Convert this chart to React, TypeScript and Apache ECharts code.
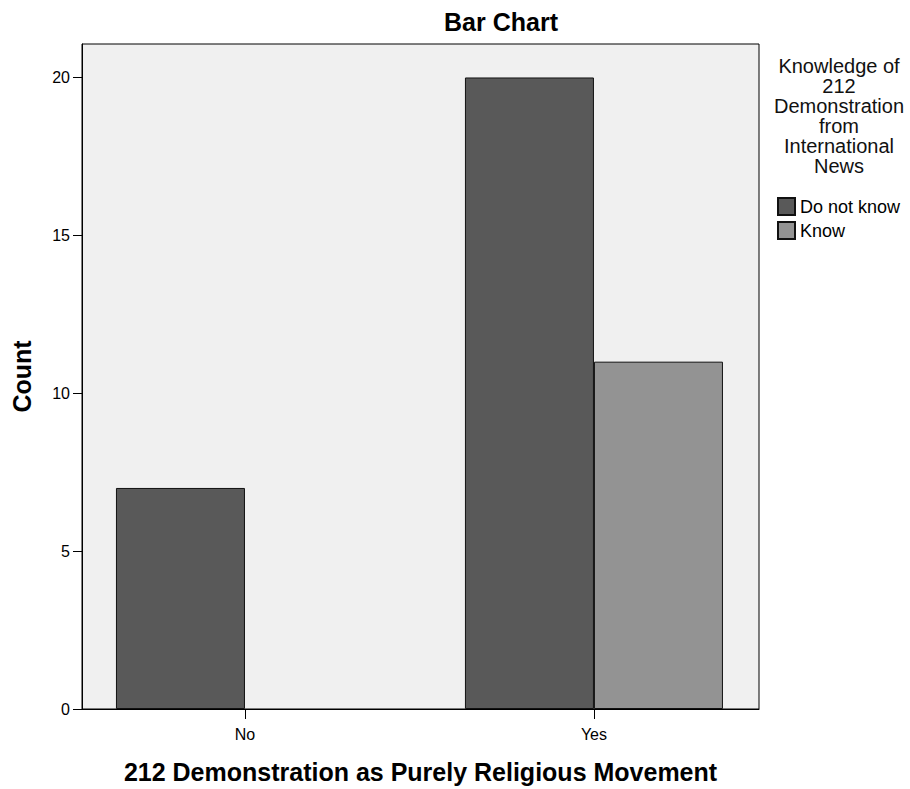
import React, { useEffect, useRef } from 'react';
import * as echarts from 'echarts';

const chartTitle = 'Bar Chart';
const categories = ['No', 'Yes'];
const seriesNames = ['Do not know', 'Know'];
const doNotKnow = [7, 20];
const know = [0, 11];
const yTicks = [0, 5, 10, 15, 20];
const xAxisTitle = '212 Demonstration as Purely Religious Movement';
const yAxisTitle = 'Count';
const legendTitle = ['Knowledge of', '212', 'Demonstration', 'from', 'International', 'News'];

const FONT = '"Liberation Sans", Arial, Helvetica, sans-serif';

export default function App() {
  const ref = useRef<HTMLDivElement>(null);
  useEffect(() => {
    document.body.style.margin = '0';
    const chart = echarts.init(ref.current!, null, { renderer: 'svg' });
    const catIdx = categories.map((_, i) => i);
    chart.setOption({
      animation: false,
      backgroundColor: '#ffffff',
      textStyle: { fontFamily: FONT },
      grid: {
        left: 82,
        top: 44,
        right: 151,
        bottom: 76,
        show: true,
        backgroundColor: '#f0f0f0',
        borderColor: '#000',
        borderWidth: 1,
      },
      xAxis: {
        type: 'value',
        min: -0.467,
        max: 1.473,
        axisLine: { show: true, onZero: false, lineStyle: { color: '#000', width: 1 } },
        axisTick: { show: true, length: 10, customValues: catIdx, lineStyle: { color: '#000' } },
        axisLabel: {
          customValues: catIdx,
          formatter: (v: number) => categories[Math.round(v)] ?? '',
          fontSize: 16,
          color: '#000',
          margin: 17,
          fontFamily: FONT,
        },
        splitLine: { show: false },
        name: xAxisTitle,
        nameLocation: 'middle',
        nameGap: 50,
        nameTextStyle: { fontSize: 25, fontWeight: 'bold', color: '#000', fontFamily: FONT },
      },
      yAxis: {
        type: 'value',
        min: 0,
        max: 21.06,
        interval: 5,
        axisLine: { show: true, onZero: false, lineStyle: { color: '#000', width: 1 } },
        axisTick: { show: true, length: 9, customValues: yTicks, lineStyle: { color: '#000' } },
        axisLabel: {
          customValues: yTicks,
          formatter: (v: number) => (v % 5 === 0 ? String(v) : ''),
          fontSize: 16,
          color: '#000',
          margin: 12,
          fontFamily: FONT,
        },
        splitLine: { show: false },
        name: yAxisTitle,
        nameLocation: 'middle',
        nameGap: 48,
        nameRotate: 90,
        nameTextStyle: { fontSize: 25, fontWeight: 'bold', color: '#000', fontFamily: FONT },
      },
      legend: {
        orient: 'vertical',
        left: 777,
        top: 197,
        padding: 0,
        itemWidth: 17,
        itemHeight: 17,
        itemGap: 5,
        icon: 'rect',
        data: seriesNames,
        textStyle: { fontSize: 18, color: '#000', fontFamily: FONT },
      },
      graphic: [
        {
          type: 'text',
          x: 501,
          y: 22,
          style: {
            text: chartTitle,
            align: 'center',
            verticalAlign: 'middle',
            fontSize: 25,
            fontWeight: 'bold',
            fill: '#000',
            fontFamily: FONT,
          },
        },
        {
          type: 'text',
          x: 839,
          y: 56,
          style: {
            text: legendTitle.join('\n'),
            align: 'center',
            verticalAlign: 'top',
            fontSize: 20,
            lineHeight: 20,
            fill: '#111',
            fontFamily: FONT,
          },
        },
      ],
      series: [
        {
          name: seriesNames[0],
          type: 'bar',
          barWidth: 129,
          barGap: '0%',
          itemStyle: { color: '#595959', borderColor: '#111', borderWidth: 1 },
          data: doNotKnow.map((v, i) => [i, v === 0 ? '-' : v]),
        },
        {
          name: seriesNames[1],
          type: 'bar',
          barWidth: 129,
          barGap: '0%',
          itemStyle: { color: '#939393', borderColor: '#111', borderWidth: 1 },
          data: know.map((v, i) => [i, v === 0 ? '-' : v]),
        },
      ],
    });
    return () => chart.dispose();
  }, []);
  return (
    <div
      ref={ref}
      style={{ position: 'absolute', left: 0, top: 0, width: 910, height: 789 }}
    />
  );
}
